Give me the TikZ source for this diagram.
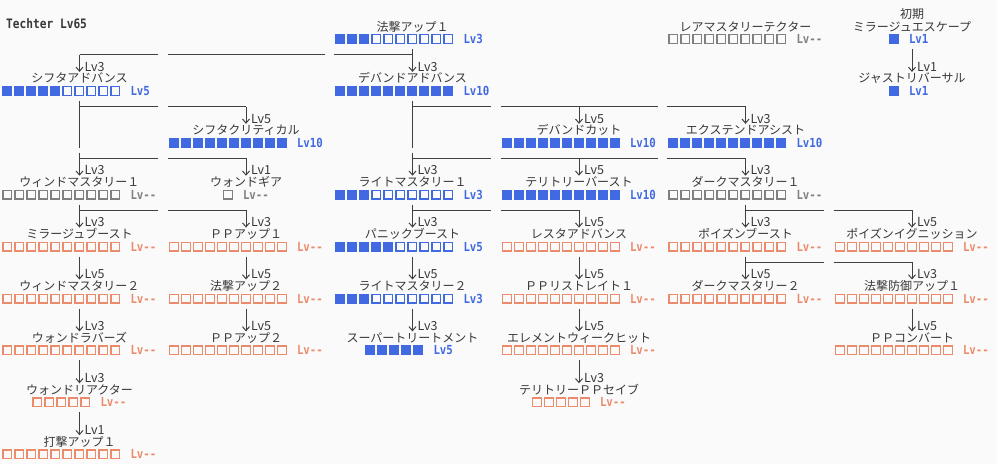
\documentclass[tikz,border=0pt]{standalone}
\usepackage{fontspec}
\newfontfamily\jp{Noto Sans CJK JP}
\newfontfamily\mono{DejaVu Sans Mono}[FakeStretch=0.86]
\usetikzlibrary{arrows.meta}
\definecolor{sblue}{HTML}{4169E1}
\definecolor{sgray}{HTML}{808080}
\definecolor{ssalmon}{HTML}{EC8B6C}
\definecolor{lnc}{HTML}{404040}
\definecolor{txt}{HTML}{383838}
\definecolor{bgc}{HTML}{FAFAFA}
\tikzset{
  nm/.style={font=\jp\fontsize{12}{12}\selectfont, text=txt, anchor=base, inner sep=0pt},
  al/.style={font=\jp\fontsize{12.5}{12}\selectfont, text=txt, anchor=base west, inner sep=0pt},
  bl/.style={font=\mono\bfseries\fontsize{12.5}{12}\selectfont, anchor=base west, inner sep=0pt},
  ttl/.style={font=\mono\bfseries\fontsize{13}{12}\selectfont, text=txt, anchor=base west, inner sep=0pt},
  ln/.style={draw=lnc, line width=1pt},
  arr/.style={-{Straight Barb[length=4pt,width=7pt]}},
}
\newcommand\colx[1]{\pgfmathsetmacro\CX{79.5+166.5*#1}}
\newcommand\rowy[1]{\pgfmathsetmacro\BY{39+51.9*#1}}
% col row name n k color barlabel
\newcommand\skillnode[7]{%
  \colx{#1}\rowy{#2}%
  \node[nm] (s-#1-#2) at (\CX,\BY-8) {#3};
  \coordinate (t-#1-#2) at (\CX,\BY-19);
  \pgfmathsetmacro\LX{\CX-(12*#4+34.4)/2}%
  \ifnum#5>0 \foreach \i in {1,...,#5}{\fill[#6] (\LX+12*\i-12,\BY-5) rectangle ++(10,10);}\fi
  \ifnum#5<#4 \pgfmathtruncatemacro\KK{#5+1}%
    \foreach \i in {\KK,...,#4}{\draw[#6,line width=1.3pt] (\LX+12*\i-11.35,\BY-4.35) rectangle ++(8.7,8.7);}\fi
  \node[bl,text=#6] (b-#1-#2) at (\LX+12*#4+8,\BY+4.5) {#7};
}
% vertical arrow from parent directly above
\newcommand\down[3]{%
  \colx{#1}\rowy{#2}\pgfmathsetmacro\PY{\BY-51.9+10}%
  \coordinate (d-#1-#2) at (\CX,\PY);
  \draw[ln,arr] (d-#1-#2) -- (t-#1-#2);
  \node[al] (a-#1-#2) at (\CX+5,\BY-19.8) {#3};
}
% vertical pass-through in a cell
\newcommand\pass[2]{%
  \colx{#1}\rowy{#2}%
  \coordinate (p-#1-#2) at (\CX,\BY-51.9+10);
  \coordinate (q-#1-#2) at (\CX,\BY+5.5);
  \draw[ln] (p-#1-#2) -- (q-#1-#2);
}
% branch arrow from horizontal line
\newcommand\branch[3]{%
  \colx{#1}\rowy{#2}%
  \coordinate (h-#1-#2) at (\CX,\BY-36.3);
  \draw[ln,arr] (h-#1-#2) -- (t-#1-#2);
  \node[al] (a-#1-#2) at (\CX+5,\BY-19.8) {#3};
}
% horizontal line in row #1 from col #2 to col #3 with gaps
\newcommand\hl[3]{%
  \rowy{#1}\pgfmathsetmacro\HY{\BY-36.3}%
  \foreach \c in {#2,...,#3}{%
    \pgfmathsetmacro\XL{ifthenelse(\c==#2,79.5+166.5*\c,79.5+166.5*\c-78.5)}%
    \pgfmathsetmacro\XR{ifthenelse(\c==#3,79.5+166.5*\c,79.5+166.5*\c+78.5)}%
    \draw[ln] (\XL,\HY) -- (\XR,\HY);
  }%
}
\begin{document}
\begin{tikzpicture}[x=1pt,y=-1pt]
\fill[bgc] (0,0) rectangle (997,464);
\useasboundingbox (0,0) rectangle (997,464);
\node[ttl] (title) at (6,28.5) {Techter Lv65};
% row 0
\skillnode{2}{0}{法撃アップ１}{10}{3}{sblue}{Lv3}
\skillnode{4}{0}{レアマスタリーテクター}{10}{0}{sgray}{Lv--}
\skillnode{5}{0}{ミラージュエスケープ}{1}{1}{sblue}{Lv1}
\node[nm] (init) at (912,18.6) {初期};
% row 1
\skillnode{0}{1}{シフタアドバンス}{10}{5}{sblue}{Lv5}
\skillnode{2}{1}{デバンドアドバンス}{10}{10}{sblue}{Lv10}
\skillnode{5}{1}{ジャストリバーサル}{1}{1}{sblue}{Lv1}
% row 2
\skillnode{1}{2}{シフタクリティカル}{10}{10}{sblue}{Lv10}
\skillnode{3}{2}{デバンドカット}{10}{10}{sblue}{Lv10}
\skillnode{4}{2}{エクステンドアシスト}{10}{10}{sblue}{Lv10}
% row 3
\skillnode{0}{3}{ウィンドマスタリー１}{10}{0}{sgray}{Lv--}
\skillnode{1}{3}{ウォンドギア}{1}{0}{sgray}{Lv--}
\skillnode{2}{3}{ライトマスタリー１}{10}{3}{sblue}{Lv3}
\skillnode{3}{3}{テリトリーバースト}{10}{10}{sblue}{Lv10}
\skillnode{4}{3}{ダークマスタリー１}{10}{0}{sgray}{Lv--}
% row 4
\skillnode{0}{4}{ミラージュブースト}{10}{0}{ssalmon}{Lv--}
\skillnode{1}{4}{ＰＰアップ１}{10}{0}{ssalmon}{Lv--}
\skillnode{2}{4}{パニックブースト}{10}{5}{sblue}{Lv5}
\skillnode{3}{4}{レスタアドバンス}{10}{0}{ssalmon}{Lv--}
\skillnode{4}{4}{ポイズンブースト}{10}{0}{ssalmon}{Lv--}
\skillnode{5}{4}{ポイズンイグニッション}{10}{0}{ssalmon}{Lv--}
% row 5
\skillnode{0}{5}{ウィンドマスタリー２}{10}{0}{ssalmon}{Lv--}
\skillnode{1}{5}{法撃アップ２}{10}{0}{ssalmon}{Lv--}
\skillnode{2}{5}{ライトマスタリー２}{10}{3}{sblue}{Lv3}
\skillnode{3}{5}{ＰＰリストレイト１}{10}{0}{ssalmon}{Lv--}
\skillnode{4}{5}{ダークマスタリー２}{10}{0}{ssalmon}{Lv--}
\skillnode{5}{5}{法撃防御アップ１}{10}{0}{ssalmon}{Lv--}
% row 6
\skillnode{0}{6}{ウォンドラバーズ}{10}{0}{ssalmon}{Lv--}
\skillnode{1}{6}{ＰＰアップ２}{10}{0}{ssalmon}{Lv--}
\skillnode{2}{6}{スーパートリートメント}{5}{5}{sblue}{Lv5}
\skillnode{3}{6}{エレメントウィークヒット}{10}{0}{ssalmon}{Lv--}
\skillnode{5}{6}{ＰＰコンバート}{10}{0}{ssalmon}{Lv--}
% row 7
\skillnode{0}{7}{ウォンドリアクター}{5}{0}{ssalmon}{Lv--}
\skillnode{3}{7}{テリトリーＰＰセイブ}{5}{0}{ssalmon}{Lv--}
% row 8
\skillnode{0}{8}{打撃アップ１}{10}{0}{ssalmon}{Lv--}
% ---- connectors ----
\hl{1}{0}{2}
\down{2}{1}{Lv3}
\branch{0}{1}{Lv3}
\down{5}{1}{Lv1}
\pass{0}{2}
\pass{2}{2}
\hl{2}{0}{1}
\branch{1}{2}{Lv5}
\hl{2}{2}{4}
\branch{3}{2}{Lv5}
\branch{4}{2}{Lv3}
\down{0}{3}{Lv3}
\hl{3}{0}{1}
\branch{1}{3}{Lv1}
\down{2}{3}{Lv3}
\hl{3}{2}{4}
\branch{3}{3}{Lv5}
\branch{4}{3}{Lv3}
\down{0}{4}{Lv3}
\hl{4}{0}{1}
\branch{1}{4}{Lv3}
\down{2}{4}{Lv3}
\hl{4}{2}{3}
\branch{3}{4}{Lv5}
\down{4}{4}{Lv3}
\hl{4}{4}{5}
\branch{5}{4}{Lv5}
\down{0}{5}{Lv5}
\down{1}{5}{Lv5}
\down{2}{5}{Lv5}
\down{3}{5}{Lv5}
\down{4}{5}{Lv5}
\hl{5}{4}{5}
\branch{5}{5}{Lv3}
\down{0}{6}{Lv3}
\down{1}{6}{Lv5}
\down{2}{6}{Lv3}
\down{3}{6}{Lv5}
\down{5}{6}{Lv5}
\down{0}{7}{Lv3}
\down{3}{7}{Lv3}
\down{0}{8}{Lv1}
\end{tikzpicture}
\end{document}
